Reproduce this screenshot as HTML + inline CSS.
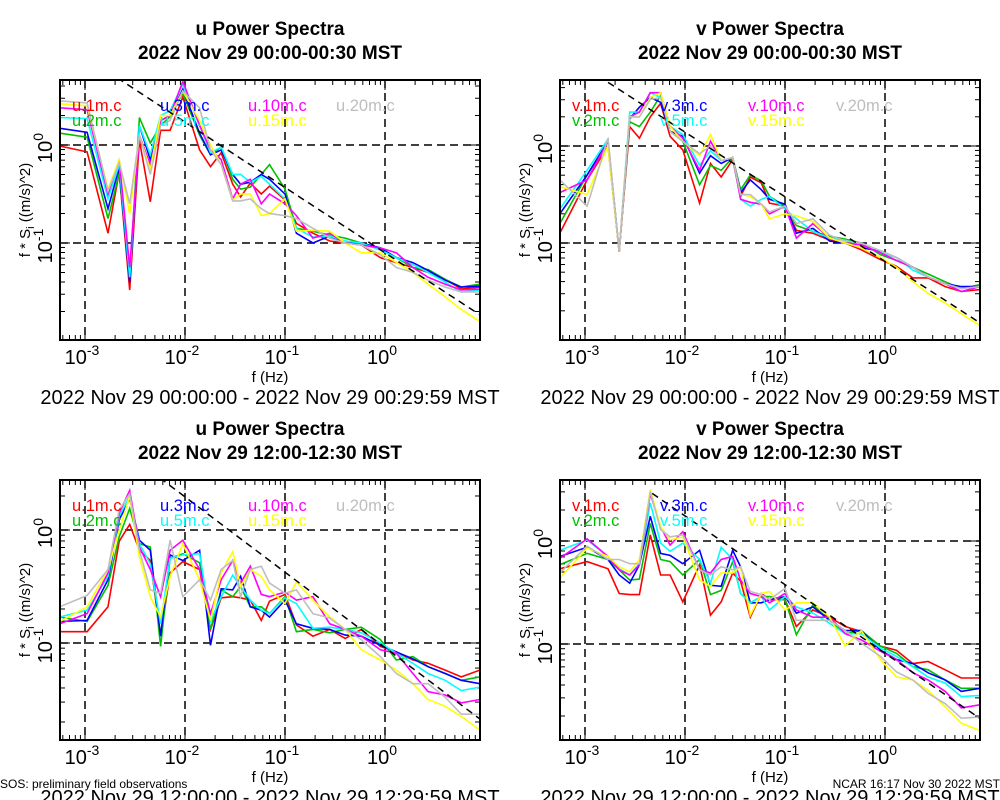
<!DOCTYPE html>
<html><head><meta charset="utf-8"><style>
html,body{margin:0;padding:0;background:#fff;}
svg{display:block;font-family:"Liberation Sans",sans-serif;}
</style></head><body>
<svg id="chart" width="1000" height="800" viewBox="0 0 1000 800"></svg>
<script>
// Shared frequency axis (Hz)
const freqs = [0.00056,0.00105,0.0017,0.0022,0.0028,0.0035,0.0045,0.0057,0.0071,0.0095,0.014,0.018,0.023,0.03,0.036,0.045,0.058,0.07,0.1,0.13,0.19,0.28,0.4,0.58,0.9,1.3,1.9,2.7,4,5.8,8.9];
const seriesColors = ["#ff0000","#00c000","#0000ff","#00ffff","#ff00ff","#ffff00","#bebebe"];
const xTickExps = [-3,-2,-1,0];
const yTickExps = [0,-1];
// log10 of f*S values, top-left panel (u, 00:00)
const uAm1 = [-0.01,-0.07,-0.9,-0.28,-1.48,0.05,-0.58,0.15,0.15,0.49,-0.05,-0.22,-0.08,-0.4,-0.53,-0.39,-0.5,-0.42,-0.56,-0.8,-0.9,-0.98,-1.0,-1.02,-1.15,-1.2,-1.25,-1.3,-1.37,-1.47,-1.45];
const uAm2 = [0.12,0.08,-0.75,-0.29,-1.35,0.28,0.02,0.2,0.29,0.53,0.1,-0.1,-0.02,-0.35,-0.45,-0.43,-0.3,-0.2,-0.45,-0.85,-0.88,-0.92,-0.95,-1.0,-1.07,-1.15,-1.25,-1.27,-1.37,-1.45,-1.42];
const uAm3 = [0.17,0.13,-0.65,-0.23,-1.4,0.2,-0.15,0.25,0.3,0.57,0.12,-0.1,-0.05,-0.3,-0.4,-0.38,-0.3,-0.35,-0.5,-0.9,-1.0,-0.93,-1.0,-1.0,-1.05,-1.15,-1.2,-1.28,-1.38,-1.45,-1.44];
const uAm5 = [0.28,0.27,-0.55,-0.2,-1.35,0.2,-0.1,0.3,0.35,0.62,0.2,-0.08,-0.02,-0.3,-0.3,-0.38,-0.32,-0.4,-0.55,-0.85,-0.94,-0.93,-0.98,-1.0,-1.07,-1.15,-1.22,-1.3,-1.4,-1.5,-1.48];
const uAm10 = [0.38,0.36,-0.5,-0.15,-1.25,0.1,-0.2,0.25,0.3,0.65,0.2,-0.05,-0.15,-0.55,-0.4,-0.35,-0.6,-0.5,-0.6,-0.72,-0.95,-0.9,-1.0,-1.02,-1.05,-1.1,-1.25,-1.35,-1.42,-1.48,-1.47];
const uAm15 = [0.42,0.4,-0.45,-0.15,-0.7,0.1,-0.25,0.3,0.3,0.55,0.25,0,-0.2,-0.56,-0.5,-0.5,-0.72,-0.7,-0.55,-0.88,-0.87,-0.88,-1.0,-1.1,-1.1,-1.2,-1.3,-1.42,-1.55,-1.68,-1.8];
const uAm20 = [0.45,0.43,-0.47,-0.18,-0.6,0.1,-0.3,0.2,0.25,0.55,0.38,-0.05,-0.2,-0.57,-0.57,-0.55,-0.65,-0.7,-0.72,-0.75,-0.85,-0.95,-1.0,-1.02,-1.12,-1.25,-1.3,-1.38,-1.45,-1.5,-1.5];
// top-right panel (v, 00:00)
const vAm1 = [-0.9,-0.35,0.0,-1.09,0.2,0.08,0.3,0.44,0.1,-0.04,-0.59,-0.18,-0.32,-0.14,-0.52,-0.32,-0.38,-0.59,-0.62,-0.87,-0.9,-0.97,-1.0,-1.07,-1.17,-1.24,-1.36,-1.36,-1.45,-1.5,-1.48];
const vAm2 = [-0.8,-0.3,0.05,-1.09,0.25,0.2,0.35,0.52,0.15,0.05,-0.4,-0.2,-0.25,-0.12,-0.45,-0.3,-0.36,-0.52,-0.62,-0.82,-0.88,-0.93,-0.96,-1.0,-1.12,-1.18,-1.25,-1.32,-1.4,-1.47,-1.43];
const vAm3 = [-0.7,-0.3,0.05,-1.09,0.28,0.4,0.5,0.45,0.15,0.1,-0.28,-0.1,-0.18,-0.12,-0.48,-0.35,-0.45,-0.55,-0.6,-0.9,-0.85,-0.98,-1.0,-1.05,-1.08,-1.15,-1.25,-1.35,-1.42,-1.45,-1.45];
const vAm5 = [-0.65,-0.25,0.07,-1.09,0.35,0.35,0.55,0.5,0.2,0.12,-0.2,-0.05,-0.15,-0.12,-0.55,-0.62,-0.55,-0.52,-0.65,-0.75,-0.88,-0.95,-0.97,-1.02,-1.1,-1.15,-1.28,-1.35,-1.42,-1.5,-1.45];
const vAm10 = [-0.48,-0.35,0.05,-1.09,0.3,0.35,0.55,0.55,0.2,0.08,-0.25,0.05,-0.15,-0.12,-0.55,-0.58,-0.6,-0.7,-0.62,-0.95,-0.8,-0.95,-1.0,-1.02,-1.1,-1.18,-1.25,-1.35,-1.42,-1.5,-1.45];
const vAm15 = [-0.42,-0.5,0.0,-1.09,0.3,0.3,0.5,0.55,0.2,0.05,-0.1,0.12,-0.15,-0.12,-0.5,-0.52,-0.6,-0.75,-0.7,-0.72,-0.78,-0.95,-1.0,-1.05,-1.15,-1.25,-1.4,-1.52,-1.62,-1.73,-1.85];
const vAm20 = [-0.35,-0.62,0.08,-1.09,0.3,0.3,0.48,0.5,0.15,0.05,-0.08,0.0,-0.15,-0.12,-0.5,-0.5,-0.6,-0.68,-0.62,-0.8,-0.75,-0.92,-0.98,-1.0,-1.08,-1.15,-1.25,-1.35,-1.42,-1.47,-1.45];
// bottom-left panel (u, 12:00)
const uPm1 = [-0.9,-0.9,-0.68,-0.1,0.05,-0.18,-0.27,-0.94,-0.38,-0.28,-0.35,-0.88,-0.6,-0.59,-0.6,-0.62,-0.8,-0.63,-0.57,-0.84,-0.94,-0.88,-0.96,-0.88,-1.03,-1.08,-1.15,-1.18,-1.24,-1.3,-1.24];
const uPm2 = [-0.77,-0.81,-0.49,-0.06,0.19,-0.12,-0.15,-1.03,-0.25,-0.21,-0.29,-0.88,-0.53,-0.59,-0.5,-0.68,-0.68,-0.74,-0.59,-0.9,-0.88,-0.91,-0.88,-0.86,-0.97,-1.15,-1.12,-1.21,-1.27,-1.33,-1.3];
const uPm3 = [-0.81,-0.8,-0.44,0.09,0.28,-0.09,-0.18,-0.94,-0.22,-0.27,-0.18,-1.02,-0.52,-0.53,-0.41,-0.68,-0.71,-0.77,-0.62,-0.83,-0.87,-0.88,-0.93,-0.94,-1.02,-1.08,-1.14,-1.21,-1.27,-1.33,-1.36];
const uPm5 = [-0.77,-0.71,-0.41,0.12,0.3,-0.12,-0.3,-0.83,-0.25,-0.22,-0.21,-0.81,-0.59,-0.4,-0.5,-0.62,-0.71,-0.74,-0.6,-0.65,-0.87,-0.86,-0.88,-0.91,-1.0,-1.09,-1.18,-1.27,-1.33,-1.42,-1.39];
const uPm10 = [-0.83,-0.74,-0.38,0.15,0.35,-0.15,-0.35,-0.59,-0.18,-0.09,-0.35,-0.74,-0.44,-0.27,-0.47,-0.32,-0.57,-0.59,-0.55,-0.62,-0.59,-0.83,-0.88,-0.94,-1.06,-1.09,-1.27,-1.43,-1.46,-1.53,-1.5];
const uPm15 = [-0.81,-0.68,-0.35,0.0,0.3,-0.24,-0.59,-0.77,-0.41,-0.12,-0.44,-0.8,-0.38,-0.19,-0.5,-0.35,-0.41,-0.53,-0.65,-0.46,-0.62,-0.77,-0.88,-1.06,-1.15,-1.24,-1.36,-1.5,-1.56,-1.65,-1.77];
const uPm20 = [-0.68,-0.58,-0.35,0.18,0.32,-0.18,-0.53,-0.56,-0.09,-0.59,-0.44,-0.62,-0.35,-0.27,-0.59,-0.35,-0.32,-0.47,-0.56,-0.53,-0.74,-0.78,-0.88,-0.97,-1.12,-1.27,-1.36,-1.36,-1.48,-1.63,-1.63];
// bottom-right panel (v, 12:00)
const vPm1 = [-0.27,-0.2,-0.27,-0.51,-0.52,-0.52,0.06,-0.33,-0.33,-0.59,-0.23,-0.72,-0.59,-0.31,-0.39,-0.74,-0.51,-0.57,-0.57,-0.83,-0.67,-0.74,-0.83,-0.88,-1.02,-1.06,-1.19,-1.17,-1.25,-1.33,-1.33];
const vPm2 = [-0.23,-0.12,-0.18,-0.28,-0.38,-0.37,0.17,-0.18,-0.2,-0.33,-0.18,-0.52,-0.48,-0.2,-0.51,-0.6,-0.54,-0.54,-0.57,-0.91,-0.62,-0.77,-0.9,-0.87,-1.02,-1.09,-1.22,-1.25,-1.35,-1.43,-1.43];
const vPm3 = [-0.15,-0.06,-0.18,-0.33,-0.41,-0.23,0.24,-0.12,-0.14,-0.22,-0.09,-0.43,-0.44,-0.09,-0.25,-0.6,-0.6,-0.57,-0.54,-0.7,-0.64,-0.77,-0.87,-0.87,-1.06,-1.15,-1.19,-1.28,-1.35,-1.46,-1.43];
const vPm5 = [-0.09,0.01,-0.15,-0.27,-0.33,-0.22,0.37,-0.02,-0.1,-0.02,-0.18,-0.41,-0.06,-0.18,-0.51,-0.6,-0.54,-0.67,-0.54,-0.64,-0.7,-0.8,-0.9,-0.9,-1.04,-1.12,-1.22,-1.32,-1.38,-1.51,-1.5];
const vPm10 = [-0.17,0.02,-0.15,-0.28,-0.33,-0.23,0.46,0.14,-0.04,0.09,-0.28,-0.31,-0.18,-0.15,-0.38,-0.51,-0.54,-0.6,-0.51,-0.67,-0.74,-0.74,-0.9,-0.96,-1.07,-1.15,-1.28,-1.35,-1.46,-1.62,-1.59];
const vPm15 = [-0.36,-0.07,-0.15,-0.25,-0.3,-0.18,0.5,0.14,0.01,0.04,-0.38,-0.44,-0.31,-0.31,-0.25,-0.72,-0.51,-0.49,-0.67,-0.6,-0.6,-0.74,-1.02,-0.87,-1.15,-1.32,-1.35,-1.45,-1.61,-1.77,-1.84];
const vPm20 = [-0.31,-0.05,-0.18,-0.18,-0.22,-0.22,0.48,0.11,0.04,0.06,-0.28,-0.33,-0.25,-0.28,-0.25,-0.49,-0.52,-0.57,-0.46,-0.77,-0.77,-0.77,-0.87,-0.99,-1.12,-1.27,-1.35,-1.48,-1.58,-1.72,-1.71];
// -2/3 reference line intercept (log10 value at f=1 Hz) per panel
const refIntercepts = [-1.1,-1.19,-1.04,-1.09];
const refStartFreqs = [0.0021,0.0017,0.0036,0.0047];

const panels = [
 {comp:"u", title2:"2022 Nov 29 00:00-00:30 MST", caption:"2022 Nov 29 00:00:00 - 2022 Nov 29 00:29:59 MST", ox:0, top:80, bot:340, y0:145, dec:98, series:[uAm1,uAm2,uAm3,uAm5,uAm10,uAm15,uAm20]},
 {comp:"v", title2:"2022 Nov 29 00:00-00:30 MST", caption:"2022 Nov 29 00:00:00 - 2022 Nov 29 00:29:59 MST", ox:500, top:80, bot:340, y0:146, dec:97, series:[vAm1,vAm2,vAm3,vAm5,vAm10,vAm15,vAm20]},
 {comp:"u", title2:"2022 Nov 29 12:00-12:30 MST", caption:"2022 Nov 29 12:00:00 - 2022 Nov 29 12:29:59 MST", ox:0, top:480, bot:740, y0:530, dec:113, series:[uPm1,uPm2,uPm3,uPm5,uPm10,uPm15,uPm20]},
 {comp:"v", title2:"2022 Nov 29 12:00-12:30 MST", caption:"2022 Nov 29 12:00:00 - 2022 Nov 29 12:29:59 MST", ox:500, top:480, bot:740, y0:541, dec:103, series:[vPm1,vPm2,vPm3,vPm5,vPm10,vPm15,vPm20]}
];
const heights = ["1m","2m","3m","5m","10m","15m","20m"];
const legendPos = [[0,0],[0,1],[1,0],[1,1],[2,0],[2,1],[3,0]];

const NS="http://www.w3.org/2000/svg";
const svg=document.getElementById('chart');
function mk(tag,attrs,parent){const e=document.createElementNS(NS,tag);for(const k in attrs)e.setAttribute(k,attrs[k]);(parent||svg).appendChild(e);return e;}

panels.forEach((p,pi)=>{
  const L=p.ox+60,R=p.ox+480;
  const xs=f=>L+(Math.log10(f)+3.25)*100;
  const ys=lv=>p.y0-lv*p.dec;
  const g=mk('g',{});
  
  
  const clipId='clip'+pi;
  const cp=mk('clipPath',{id:clipId},g);mk('rect',{x:L,y:p.top,width:R-L,height:p.bot-p.top},cp);
  const cx=p.ox+270;
  const t1=mk('text',{x:cx,y:p.top-45,'text-anchor':'middle','font-size':19,'font-weight':'bold'},g);t1.textContent=p.comp+' Power Spectra';
  
  
  const t2=mk('text',{x:cx,y:p.top-21,'text-anchor':'middle','font-size':19,'font-weight':'bold'},g);t2.textContent=p.title2;
  
  
  xTickExps.forEach(e=>{const x=xs(Math.pow(10,e));const l=mk('line',{x1:x,x2:x,y1:p.top,y2:p.bot,stroke:'#000','stroke-width':1.5,'stroke-dasharray':'8,5'},g);
    
    
    const tx=mk('text',{x:x-3,y:p.bot+24,'text-anchor':'middle','font-size':20},g);
    
    
    tx.appendChild(document.createTextNode('10'));const s=mk('tspan',{'font-size':14,dy:-9},tx);s.textContent=String(e);});
  yTickExps.forEach(e=>{const y=ys(e);const l=mk('line',{x1:L,x2:R,y1:y,y2:y,stroke:'#000','stroke-width':1.5,'stroke-dasharray':'8,5'},g);
    
    
    const tx=mk('text',{x:0,y:0,'text-anchor':'middle','font-size':20,transform:`translate(${L-8},${y+3}) rotate(-90)`},g);
    
    
    tx.appendChild(document.createTextNode('10'));const s=mk('tspan',{'font-size':14,dy:-9},tx);s.textContent=String(e);});
  for(let e=-4;e<=1;e++)for(let m=1;m<=9;m++){const x=xs(m*Math.pow(10,e));if(x<L||x>R)continue;const len=m==1?10:5;
    mk('line',{x1:x,x2:x,y1:p.bot,y2:p.bot-len,stroke:'#000'},g);mk('line',{x1:x,x2:x,y1:p.top,y2:p.top+len,stroke:'#000'},g);}
  for(let e=-3;e<=1;e++)for(let m=1;m<=9;m++){const y=ys(e+Math.log10(m));if(y<p.top||y>p.bot)continue;const len=m==1?10:5;
    mk('line',{x1:L,x2:L+len,y1:y,y2:y,stroke:'#000'},g);mk('line',{x1:R,x2:R-len,y1:y,y2:y,stroke:'#000'},g);}
  const sg=mk('g',{'clip-path':`url(#${clipId})`},g);
  p.series.forEach((vals,si)=>{
    const pts=vals.map((v,i)=>xs(freqs[i]).toFixed(1)+','+ys(v).toFixed(1)).join(' ');
    const pl=mk('polyline',{points:pts,fill:'none',stroke:seriesColors[si],'stroke-width':1.6},sg);
    
    
  });
  const a=refIntercepts[pi],f0=refStartFreqs[pi],f1=8.9;
  const rl=mk('line',{x1:xs(f0),y1:ys(a-2/3*Math.log10(f0)),x2:xs(f1),y2:ys(a-2/3*Math.log10(f1)),stroke:'#000','stroke-width':1.5,'stroke-dasharray':'7,5'},sg);
  
  
  heights.forEach((h,si)=>{const [c,r]=legendPos[si];
    const t=mk('text',{x:L+12+c*88,y:p.top+31+r*15,'font-size':16.5,fill:seriesColors[si]},g);t.textContent=p.comp+'.'+h+'.c';
    
    });
  const fr=mk('rect',{x:L,y:p.top,width:R-L,height:p.bot-p.top,fill:'none',stroke:'#000','stroke-width':2},g);
  
  
  const xt=mk('text',{x:cx,y:p.bot+42,'text-anchor':'middle','font-size':15},g);xt.textContent='f (Hz)';
  
  
  const yt=mk('text',{x:0,y:0,'text-anchor':'middle','font-size':15,transform:`translate(${p.ox+30},${(p.top+p.bot)/2}) rotate(-90)`},g);
  
  
  yt.appendChild(document.createTextNode('f * S'));const sb=mk('tspan',{'font-size':11,dy:4},yt);sb.textContent='i';
  const rest=mk('tspan',{dy:-4},yt);rest.textContent=' ((m/s)^2)';
  const cap=mk('text',{x:cx,y:p.bot+64,'text-anchor':'middle','font-size':20},g);cap.textContent=p.caption;
  
  
});
const fl=mk('text',{x:0,y:788,'font-size':12});fl.textContent='SOS: preliminary field observations';


const fr2=mk('text',{x:1000,y:788,'font-size':12,'text-anchor':'end'});fr2.textContent='NCAR 16:17 Nov 30 2022 MST';


</script>
</body></html>
